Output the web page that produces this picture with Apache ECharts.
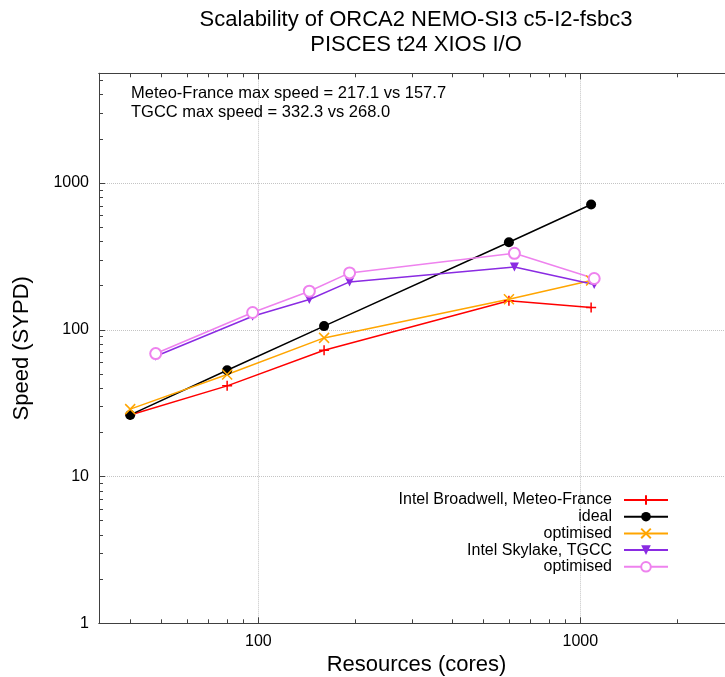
<!DOCTYPE html>
<html>
<head>
<meta charset="utf-8">
<script src="https://cdn.jsdelivr.net/npm/echarts@6/dist/echarts.min.js"></script>
<style>
  html, body { margin: 0; padding: 0; background: #fff; }
  #chart { width: 725px; height: 677px; }
</style>
</head>
<body>
<div id="chart"></div>
<script>
// Core counts used on each machine
const broadwellCores = [40, 80, 160, 600, 1080];
const skylakeCores = [48, 96, 144, 192, 624, 1104];

// Throughput in simulated years per day
const broadwellSpeed = [26.3, 41.5, 72.6, 157.7, 142.0];
const idealSpeed = [26.3, 53.0, 106.0, 395.0, 714.0];
const broadwellOptSpeed = [28.8, 49.6, 88.1, 161.7, 217.1];
const skylakeSpeed = [66.0, 123.8, 160.9, 212.2, 268.0, 203.6];
const skylakeOptSpeed = [68.9, 131.2, 183.3, 244.3, 332.3, 223.7];

// Tick positions (log axes, gnuplot style major + minor)
const xMajorTicks = [100, 1000];
const xMinorTicks = [40, 50, 60, 70, 80, 90, 200, 300, 400, 500, 600, 700, 800, 900, 2000, 3000];
const yMajorTicks = [1, 10, 100, 1000];
const yMinorTicks = [2, 3, 4, 5, 6, 7, 8, 9, 20, 30, 40, 50, 60, 70, 80, 90,
                     200, 300, 400, 500, 600, 700, 800, 900, 2000, 3000, 4000, 5000];

const titleText = 'Scalability of ORCA2 NEMO-SI3 c5-I2-fsbc3\nPISCES t24 XIOS I/O';
const noteText = 'Meteo-France max speed = 217.1 vs 157.7\nTGCC max speed = 332.3 vs 268.0';

const legendLabels = {
  bdw: 'Intel Broadwell, Meteo-France',
  ideal: 'ideal',
  bdwOpt: 'optimised',
  skl: 'Intel Skylake, TGCC',
  sklOpt: 'optimised'
};

const FONT = 'Liberation Sans, Arial, sans-serif';
const AXIS_COLOR = '#404040';
const X_MIN = 32, X_MAX = 3000, Y_MIN = 1, Y_MAX = 5600;

const PLUS = 'path://M0,5L10,5M5,0L5,10';
const CROSS = 'path://M0,0L10,10M10,0L0,10';

function pairs(xs, ys) { return xs.map((x, i) => [x, ys[i]]); }
const plainNumber = v => String(v);

function logAxis(extra) {
  return Object.assign({
    type: 'log', logBase: 10,
    axisLine: { show: true, onZero: false, lineStyle: { color: AXIS_COLOR, width: 1 } },
    axisTick: { show: false },
    axisLabel: { show: false },
    splitLine: { show: false },
    minorTick: { show: false },
    minorSplitLine: { show: false }
  }, extra);
}

function xAxisSet(pos, withLabels) {
  const major = logAxis({
    min: X_MIN, max: X_MAX, position: pos,
    axisTick: { show: true, inside: true, length: 6, customValues: xMajorTicks,
                lineStyle: { color: AXIS_COLOR, width: 1 } },
    axisLabel: withLabels
      ? { show: true, customValues: xMajorTicks, fontSize: 16, color: '#000', margin: 10,
          fontFamily: FONT, formatter: plainNumber }
      : { show: false }
  });
  if (withLabels) {
    major.splitLine = { show: true, lineStyle: { type: 'dotted', color: '#c4c4c4', width: 1 } };
    major.name = 'Resources (cores)';
    major.nameLocation = 'middle';
    major.nameGap = 28;
    major.nameTextStyle = { fontSize: 22, color: '#000', fontFamily: FONT };
  }
  const minor = logAxis({
    min: X_MIN, max: X_MAX, position: pos,
    axisTick: { show: true, inside: true, length: 4, customValues: xMinorTicks,
                lineStyle: { color: AXIS_COLOR, width: 1 } },
    axisLabel: { show: false, customValues: xMinorTicks }
  });
  return [major, minor];
}

const yMajor = logAxis({
  min: Y_MIN, max: Y_MAX, position: 'left',
  axisTick: { show: true, inside: true, length: 6, customValues: yMajorTicks,
              lineStyle: { color: AXIS_COLOR, width: 1 } },
  axisLabel: { show: true, customValues: yMajorTicks, fontSize: 16, color: '#000', margin: 10,
               fontFamily: FONT, formatter: plainNumber },
  splitLine: { show: true, lineStyle: { type: 'dotted', color: '#c4c4c4', width: 1 } },
  name: 'Speed (SYPD)', nameLocation: 'middle', nameGap: 66,
  nameTextStyle: { fontSize: 22, color: '#000', fontFamily: FONT }
});
const yMinor = logAxis({
  min: Y_MIN, max: Y_MAX, position: 'left',
  axisTick: { show: true, inside: true, length: 4, customValues: yMinorTicks,
              lineStyle: { color: AXIS_COLOR, width: 1 } },
  axisLabel: { show: false, customValues: yMinorTicks }
});

function lineSeries(id, color, xs, ys, symbol, size, extra) {
  return Object.assign({
    type: 'line', name: id, xAxisIndex: 0, yAxisIndex: 0,
    data: pairs(xs, ys),
    symbol: symbol, symbolSize: size, showAllSymbol: true,
    lineStyle: { color: color, width: 1.5 },
    itemStyle: { color: color, borderColor: color, borderWidth: 1.5 },
    emphasis: { disabled: true },
    animation: false
  }, extra || {});
}

const series = [
  lineSeries('bdw', '#ff0000', broadwellCores, broadwellSpeed, PLUS, 10),
  lineSeries('ideal', '#000000', broadwellCores, idealSpeed, 'circle', 10,
             { itemStyle: { color: '#000000', borderWidth: 0 } }),
  lineSeries('bdwOpt', '#ffa500', broadwellCores, broadwellOptSpeed, CROSS, 10),
  lineSeries('skl', '#8a2be2', skylakeCores, skylakeSpeed, 'triangle', 9,
             { symbolRotate: 180, itemStyle: { color: '#8a2be2', borderWidth: 0 } }),
  lineSeries('sklOpt', '#ee82ee', skylakeCores, skylakeOptSpeed, 'emptyCircle', 11,
             { itemStyle: { color: '#ee82ee', borderColor: '#ee82ee', borderWidth: 1.5 } })
];

// Legend: one right-aligned row per series, symbol drawn on the right of the text
const legendOrder = ['bdw', 'ideal', 'bdwOpt', 'skl', 'sklOpt'];
const legendRowTop = 492;
const legendRowStep = 16.7;
const legends = legendOrder.map((id, i) => ({
  data: [id],
  orient: 'vertical',
  align: 'right',
  right: 56,
  top: legendRowTop + i * legendRowStep,
  padding: 0,
  itemGap: 0,
  itemWidth: 44,
  itemHeight: 12,
  selectedMode: false,
  formatter: name => legendLabels[name],
  textStyle: { fontSize: 16, color: '#000', fontFamily: FONT, padding: [0, 7, 0, 0] }
}));

const chart = echarts.init(document.getElementById('chart'), null, { renderer: 'canvas' });
chart.setOption({
  animation: false,
  backgroundColor: '#ffffff',
  textStyle: { fontFamily: FONT },
  title: [
    { text: titleText, left: 416, top: 7, textAlign: 'center', padding: 0,
      textStyle: { fontSize: 22, fontWeight: 'normal', lineHeight: 25, color: '#000', fontFamily: FONT } },
    { text: noteText, left: 131, top: 83.5, padding: 0,
      textStyle: { fontSize: 16.5, fontWeight: 'normal', lineHeight: 19.5, color: '#000', fontFamily: FONT } }
  ],
  grid: { left: 99, top: 73.3, width: 635, height: 550, containLabel: false, outerBoundsMode: 'none' },
  xAxis: xAxisSet('bottom', true).concat(xAxisSet('top', false)),
  yAxis: [yMajor, yMinor],
  legend: legends,
  series: series
});
</script>
</body>
</html>
